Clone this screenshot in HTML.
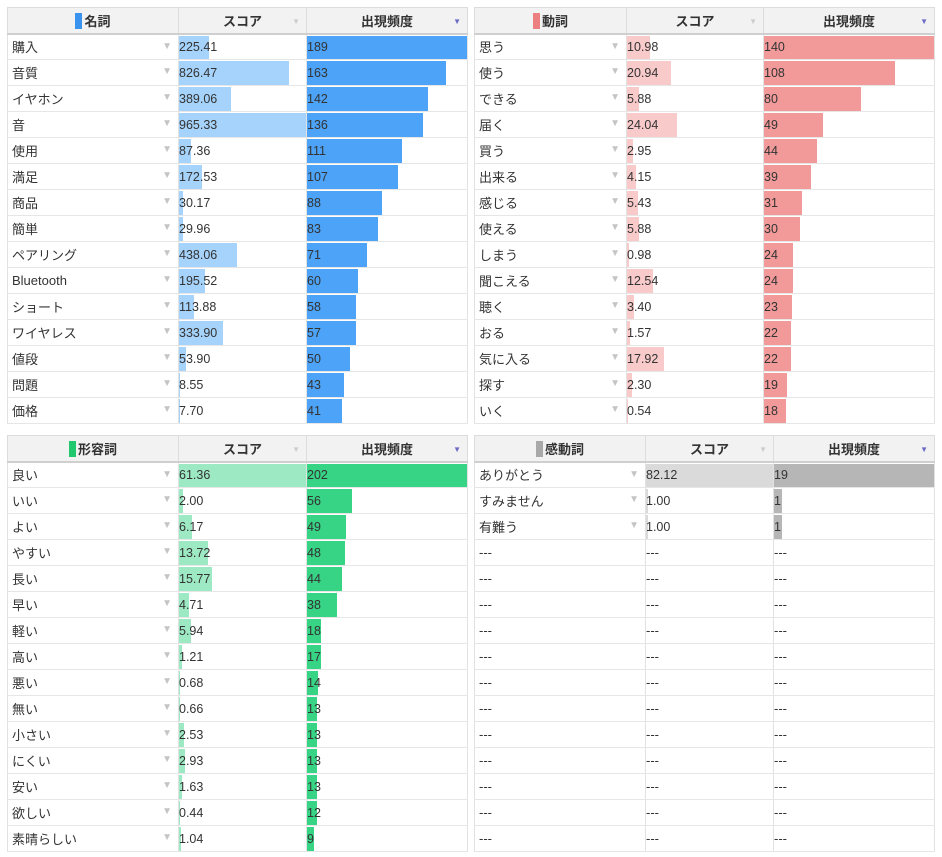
<!DOCTYPE html>
<html><head><meta charset="utf-8">
<style>
*{box-sizing:border-box;margin:0;padding:0}
body{width:942px;height:857px;background:#fff;font-family:"Liberation Sans","Noto Sans CJK JP",sans-serif;color:#333;position:relative;overflow:hidden}
table{position:absolute;border-collapse:collapse;table-layout:fixed}
th{height:26px;background:#f2f2f2;border:1px solid #dcdcdc;border-bottom:2px solid #cfcfcf;font-size:13px;font-weight:bold;text-align:center;position:relative;color:#333}
td{height:26px;border-right:1px solid #e2e2e2;border-left:1px solid #e2e2e2;border-bottom:1px solid #e6e6e6;font-size:13px;position:relative;padding-left:4px;white-space:nowrap;overflow:hidden}
td.n::after{content:"▼";position:absolute;right:6px;top:6px;font-size:10px;color:#c4c4c4}
td.x{padding-left:0}
td b{position:absolute;left:0;top:1px;height:24px;font-weight:normal}
td span{position:relative;font-size:12.5px}
th i{position:absolute;right:6px;top:9px;font-size:8px;font-style:normal;color:#ccc}
th i.p{color:#6b6bc6}
th u{display:inline-block;width:7px;height:16px;vertical-align:-3px;margin-right:2px;text-decoration:none}
.b1 b{background:#a6d3fb}.b2 b{background:#4ca3f7}
.r1 b{background:#f8caca}.r2 b{background:#f29a9a}
.g1 b{background:#9de9c3}.g2 b{background:#37d486}
.y1 b{background:#dadada}.y2 b{background:#b6b6b6}
.b1,.b2,.r1,.r2,.g1,.g2,.y1,.y2{padding-left:0}
</style></head><body>

<table style="left:7px;top:7px;width:460px">
<colgroup><col style="width:171px"><col style="width:128px"><col style="width:161px"></colgroup>
<tr><th><u style="background:#3b93f0"></u>名詞</th><th>スコア<i>▼</i></th><th>出現頻度<i class="p">▼</i></th></tr>
<tr><td class="n">購入</td><td class="b1"><b style="width:30px"></b><span>225.41</span></td><td class="b2"><b style="width:161px"></b><span>189</span></td></tr>
<tr><td class="n">音質</td><td class="b1"><b style="width:110px"></b><span>826.47</span></td><td class="b2"><b style="width:139px"></b><span>163</span></td></tr>
<tr><td class="n">イヤホン</td><td class="b1"><b style="width:52px"></b><span>389.06</span></td><td class="b2"><b style="width:121px"></b><span>142</span></td></tr>
<tr><td class="n">音</td><td class="b1"><b style="width:128px"></b><span>965.33</span></td><td class="b2"><b style="width:116px"></b><span>136</span></td></tr>
<tr><td class="n">使用</td><td class="b1"><b style="width:12px"></b><span>87.36</span></td><td class="b2"><b style="width:95px"></b><span>111</span></td></tr>
<tr><td class="n">満足</td><td class="b1"><b style="width:23px"></b><span>172.53</span></td><td class="b2"><b style="width:91px"></b><span>107</span></td></tr>
<tr><td class="n">商品</td><td class="b1"><b style="width:4px"></b><span>30.17</span></td><td class="b2"><b style="width:75px"></b><span>88</span></td></tr>
<tr><td class="n">簡単</td><td class="b1"><b style="width:4px"></b><span>29.96</span></td><td class="b2"><b style="width:71px"></b><span>83</span></td></tr>
<tr><td class="n">ペアリング</td><td class="b1"><b style="width:58px"></b><span>438.06</span></td><td class="b2"><b style="width:60px"></b><span>71</span></td></tr>
<tr><td class="n">Bluetooth</td><td class="b1"><b style="width:26px"></b><span>195.52</span></td><td class="b2"><b style="width:51px"></b><span>60</span></td></tr>
<tr><td class="n">ショート</td><td class="b1"><b style="width:15px"></b><span>113.88</span></td><td class="b2"><b style="width:49px"></b><span>58</span></td></tr>
<tr><td class="n">ワイヤレス</td><td class="b1"><b style="width:44px"></b><span>333.90</span></td><td class="b2"><b style="width:49px"></b><span>57</span></td></tr>
<tr><td class="n">値段</td><td class="b1"><b style="width:7px"></b><span>53.90</span></td><td class="b2"><b style="width:43px"></b><span>50</span></td></tr>
<tr><td class="n">問題</td><td class="b1"><b style="width:1px"></b><span>8.55</span></td><td class="b2"><b style="width:37px"></b><span>43</span></td></tr>
<tr><td class="n">価格</td><td class="b1"><b style="width:1px"></b><span>7.70</span></td><td class="b2"><b style="width:35px"></b><span>41</span></td></tr>
</table>

<table style="left:474px;top:7px;width:460px">
<colgroup><col style="width:152px"><col style="width:137px"><col style="width:171px"></colgroup>
<tr><th><u style="background:#ec7f7f"></u>動詞</th><th>スコア<i>▼</i></th><th>出現頻度<i class="p">▼</i></th></tr>
<tr><td class="n">思う</td><td class="r1"><b style="width:23px"></b><span>10.98</span></td><td class="r2"><b style="width:170px"></b><span>140</span></td></tr>
<tr><td class="n">使う</td><td class="r1"><b style="width:44px"></b><span>20.94</span></td><td class="r2"><b style="width:131px"></b><span>108</span></td></tr>
<tr><td class="n">できる</td><td class="r1"><b style="width:12px"></b><span>5.88</span></td><td class="r2"><b style="width:97px"></b><span>80</span></td></tr>
<tr><td class="n">届く</td><td class="r1"><b style="width:50px"></b><span>24.04</span></td><td class="r2"><b style="width:59px"></b><span>49</span></td></tr>
<tr><td class="n">買う</td><td class="r1"><b style="width:6px"></b><span>2.95</span></td><td class="r2"><b style="width:53px"></b><span>44</span></td></tr>
<tr><td class="n">出来る</td><td class="r1"><b style="width:9px"></b><span>4.15</span></td><td class="r2"><b style="width:47px"></b><span>39</span></td></tr>
<tr><td class="n">感じる</td><td class="r1"><b style="width:11px"></b><span>5.43</span></td><td class="r2"><b style="width:38px"></b><span>31</span></td></tr>
<tr><td class="n">使える</td><td class="r1"><b style="width:12px"></b><span>5.88</span></td><td class="r2"><b style="width:36px"></b><span>30</span></td></tr>
<tr><td class="n">しまう</td><td class="r1"><b style="width:2px"></b><span>0.98</span></td><td class="r2"><b style="width:29px"></b><span>24</span></td></tr>
<tr><td class="n">聞こえる</td><td class="r1"><b style="width:26px"></b><span>12.54</span></td><td class="r2"><b style="width:29px"></b><span>24</span></td></tr>
<tr><td class="n">聴く</td><td class="r1"><b style="width:7px"></b><span>3.40</span></td><td class="r2"><b style="width:28px"></b><span>23</span></td></tr>
<tr><td class="n">おる</td><td class="r1"><b style="width:3px"></b><span>1.57</span></td><td class="r2"><b style="width:27px"></b><span>22</span></td></tr>
<tr><td class="n">気に入る</td><td class="r1"><b style="width:37px"></b><span>17.92</span></td><td class="r2"><b style="width:27px"></b><span>22</span></td></tr>
<tr><td class="n">探す</td><td class="r1"><b style="width:5px"></b><span>2.30</span></td><td class="r2"><b style="width:23px"></b><span>19</span></td></tr>
<tr><td class="n">いく</td><td class="r1"><b style="width:1px"></b><span>0.54</span></td><td class="r2"><b style="width:22px"></b><span>18</span></td></tr>
</table>

<table style="left:7px;top:435px;width:460px">
<colgroup><col style="width:171px"><col style="width:128px"><col style="width:161px"></colgroup>
<tr><th><u style="background:#22c86e"></u>形容詞</th><th>スコア<i>▼</i></th><th>出現頻度<i class="p">▼</i></th></tr>
<tr><td class="n">良い</td><td class="g1"><b style="width:128px"></b><span>61.36</span></td><td class="g2"><b style="width:161px"></b><span>202</span></td></tr>
<tr><td class="n">いい</td><td class="g1"><b style="width:4px"></b><span>2.00</span></td><td class="g2"><b style="width:45px"></b><span>56</span></td></tr>
<tr><td class="n">よい</td><td class="g1"><b style="width:13px"></b><span>6.17</span></td><td class="g2"><b style="width:39px"></b><span>49</span></td></tr>
<tr><td class="n">やすい</td><td class="g1"><b style="width:29px"></b><span>13.72</span></td><td class="g2"><b style="width:38px"></b><span>48</span></td></tr>
<tr><td class="n">長い</td><td class="g1"><b style="width:33px"></b><span>15.77</span></td><td class="g2"><b style="width:35px"></b><span>44</span></td></tr>
<tr><td class="n">早い</td><td class="g1"><b style="width:10px"></b><span>4.71</span></td><td class="g2"><b style="width:30px"></b><span>38</span></td></tr>
<tr><td class="n">軽い</td><td class="g1"><b style="width:12px"></b><span>5.94</span></td><td class="g2"><b style="width:14px"></b><span>18</span></td></tr>
<tr><td class="n">高い</td><td class="g1"><b style="width:3px"></b><span>1.21</span></td><td class="g2"><b style="width:14px"></b><span>17</span></td></tr>
<tr><td class="n">悪い</td><td class="g1"><b style="width:1px"></b><span>0.68</span></td><td class="g2"><b style="width:11px"></b><span>14</span></td></tr>
<tr><td class="n">無い</td><td class="g1"><b style="width:1px"></b><span>0.66</span></td><td class="g2"><b style="width:10px"></b><span>13</span></td></tr>
<tr><td class="n">小さい</td><td class="g1"><b style="width:5px"></b><span>2.53</span></td><td class="g2"><b style="width:10px"></b><span>13</span></td></tr>
<tr><td class="n">にくい</td><td class="g1"><b style="width:6px"></b><span>2.93</span></td><td class="g2"><b style="width:10px"></b><span>13</span></td></tr>
<tr><td class="n">安い</td><td class="g1"><b style="width:3px"></b><span>1.63</span></td><td class="g2"><b style="width:10px"></b><span>13</span></td></tr>
<tr><td class="n">欲しい</td><td class="g1"><b style="width:1px"></b><span>0.44</span></td><td class="g2"><b style="width:10px"></b><span>12</span></td></tr>
<tr><td class="n">素晴らしい</td><td class="g1"><b style="width:2px"></b><span>1.04</span></td><td class="g2"><b style="width:7px"></b><span>9</span></td></tr>
</table>

<table style="left:474px;top:435px;width:460px">
<colgroup><col style="width:171px"><col style="width:128px"><col style="width:161px"></colgroup>
<tr><th><u style="background:#a8a8a8"></u>感動詞</th><th>スコア<i>▼</i></th><th>出現頻度<i class="p">▼</i></th></tr>
<tr><td class="n">ありがとう</td><td class="y1"><b style="width:128px"></b><span>82.12</span></td><td class="y2"><b style="width:161px"></b><span>19</span></td></tr>
<tr><td class="n">すみません</td><td class="y1"><b style="width:2px"></b><span>1.00</span></td><td class="y2"><b style="width:8px"></b><span>1</span></td></tr>
<tr><td class="n">有難う</td><td class="y1"><b style="width:2px"></b><span>1.00</span></td><td class="y2"><b style="width:8px"></b><span>1</span></td></tr>
<tr><td>---</td><td class="x">---</td><td class="x">---</td></tr>
<tr><td>---</td><td class="x">---</td><td class="x">---</td></tr>
<tr><td>---</td><td class="x">---</td><td class="x">---</td></tr>
<tr><td>---</td><td class="x">---</td><td class="x">---</td></tr>
<tr><td>---</td><td class="x">---</td><td class="x">---</td></tr>
<tr><td>---</td><td class="x">---</td><td class="x">---</td></tr>
<tr><td>---</td><td class="x">---</td><td class="x">---</td></tr>
<tr><td>---</td><td class="x">---</td><td class="x">---</td></tr>
<tr><td>---</td><td class="x">---</td><td class="x">---</td></tr>
<tr><td>---</td><td class="x">---</td><td class="x">---</td></tr>
<tr><td>---</td><td class="x">---</td><td class="x">---</td></tr>
<tr><td>---</td><td class="x">---</td><td class="x">---</td></tr>
</table>

</body></html>
